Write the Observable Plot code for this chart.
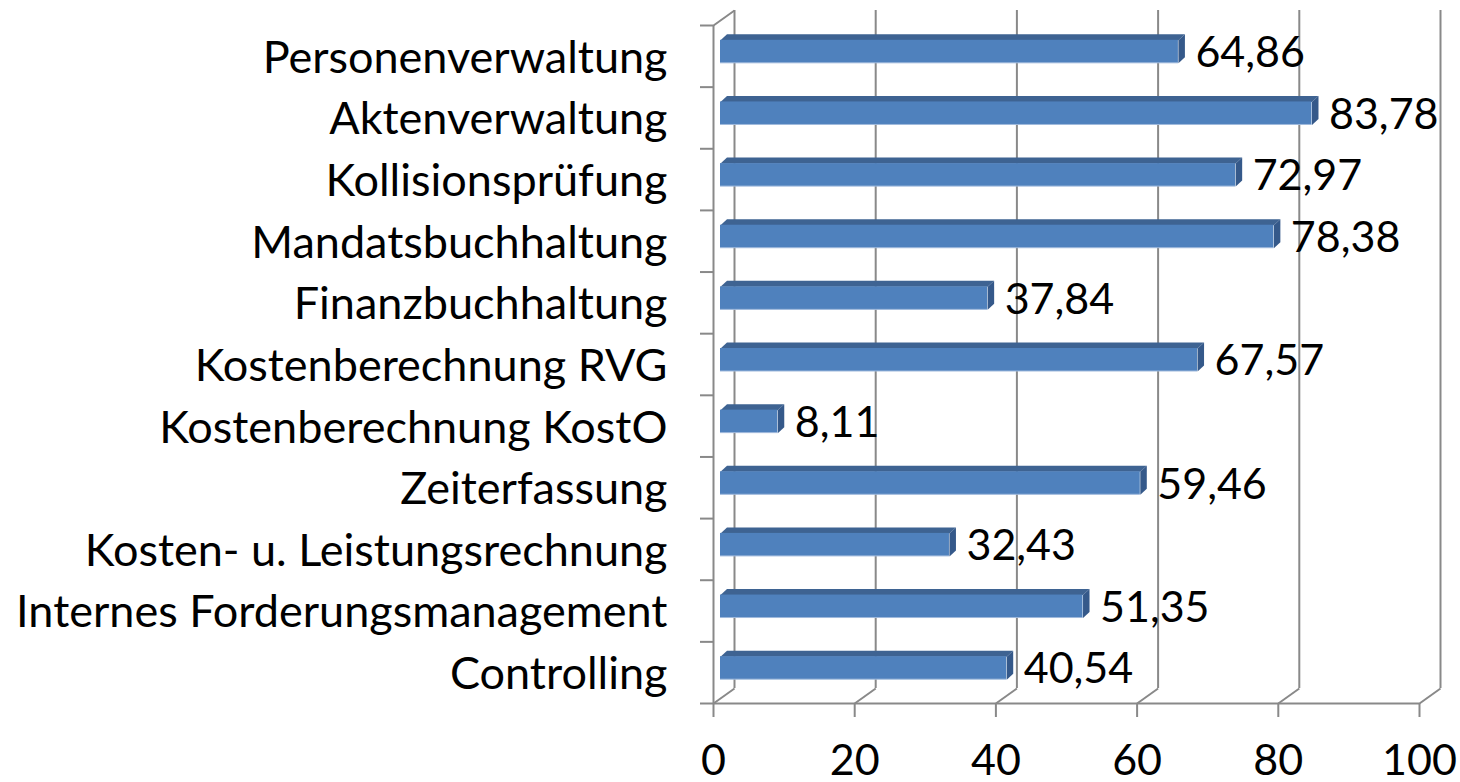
<!DOCTYPE html>
<html>
<head>
<meta charset="utf-8">
<script src="https://cdn.jsdelivr.net/npm/d3@7"></script>
<script src="https://cdn.jsdelivr.net/npm/@observablehq/plot@0.6"></script>
<style>
  html, body { margin: 0; padding: 0; background: #ffffff; }
  #chart svg { display: block; }
</style>
</head>
<body>
<div id="chart"></div>
<script>
// ---- data ----
const categories = [
  "Personenverwaltung",
  "Aktenverwaltung",
  "Kollisionsprüfung",
  "Mandatsbuchhaltung",
  "Finanzbuchhaltung",
  "Kostenberechnung RVG",
  "Kostenberechnung KostO",
  "Zeiterfassung",
  "Kosten- u. Leistungsrechnung",
  "Internes Forderungsmanagement",
  "Controlling"
];
const values = [64.86, 83.78, 72.97, 78.38, 37.84, 67.57, 8.11, 59.46, 32.43, 51.35, 40.54];
const xTicks = [0, 20, 40, 60, 80, 100];

// ---- layout ----
const W = 1460, H = 782;
const X0 = 713, X1 = 1419;       // front plane: 0 .. 100
const Y0 = 25, Y1 = 703;         // front plane: top .. bottom
const n = categories.length;
const kx = (X1 - X0) / 100;      // px per value unit
const ky = (Y1 - Y0) / n;        // px per category
const wallDX = 21, wallDY = -15; // depth of the back wall
const barDX = 7, barDY = -4.5;   // bar front plane offset
const depDX = 6.5, depDY = -6;   // bar depth
const barH = 23;

const FONT = "Lato, 'Open Sans', sans-serif";
const FS = 43;
const FS_CAT = 45;
const GRID = "#898989";

const fmt = v => v.toFixed(2).replace(".", ",");
const rows = categories.map((name, i) => ({name, i, value: values[i], label: fmt(values[i])}));

const hy = (barH / 2) / ky;
const tx = depDX / kx, ty = depDY / ky;

const topFaces = rows.flatMap(d => {
  const yt = d.i + 0.5 - hy;
  return [
    {i: d.i, x: 0, y: yt},
    {i: d.i, x: d.value, y: yt},
    {i: d.i, x: d.value + tx, y: yt + ty},
    {i: d.i, x: tx, y: yt + ty}
  ];
});
const sideFaces = rows.flatMap(d => {
  const yt = d.i + 0.5 - hy, yb = d.i + 0.5 + hy;
  return [
    {i: d.i, x: d.value, y: yt},
    {i: d.i, x: d.value + tx, y: yt + ty},
    {i: d.i, x: d.value + tx, y: yb + ty},
    {i: d.i, x: d.value, y: yb}
  ];
});

const chart = Plot.plot({
  width: W,
  height: H,
  marginLeft: X0,
  marginRight: W - X1,
  marginTop: Y0,
  marginBottom: H - Y1,
  x: {domain: [0, 100], range: [X0, X1], axis: null},
  y: {domain: [0, n], range: [Y0, Y1], axis: null},
  marks: [
    // back wall gridlines
    Plot.ruleX(xTicks, {x: d => d, y1: 0, y2: n, dx: wallDX, dy: wallDY, stroke: GRID, strokeWidth: 2}),
    // floor diagonals
    Plot.link(xTicks, {x1: d => d, y1: n, x2: d => d + wallDX / kx, y2: n + wallDY / ky, stroke: GRID, strokeWidth: 2}),
    // left wall front edge + top diagonal
    Plot.ruleX([0], {y1: 0, y2: n, stroke: GRID, strokeWidth: 2}),
    Plot.link([0], {x1: 0, y1: 0, x2: wallDX / kx, y2: wallDY / ky, stroke: GRID, strokeWidth: 2}),
    // left ticks
    Plot.ruleY(d3.range(n + 1), {y: d => d, x1: -13 / kx, x2: 0, stroke: GRID, strokeWidth: 2}),
    // bottom axis line + ticks
    Plot.ruleY([n], {x1: 0, x2: 100, stroke: GRID, strokeWidth: 2}),
    Plot.ruleX(xTicks, {x: d => d, y1: n, y2: n + 14 / ky, stroke: GRID, strokeWidth: 2}),
    // bars: top face, side face, front face
    Plot.line(topFaces, {x: "x", y: "y", z: "i", fill: "#3e6392", stroke: "none", dx: barDX, dy: barDY}),
    Plot.line(sideFaces, {x: "x", y: "y", z: "i", fill: "#35598a", stroke: "none", dx: barDX, dy: barDY}),
    Plot.rect(rows, {
      x1: 0, x2: "value", y1: "i", y2: d => d.i + 1,
      insetTop: (ky - barH) / 2, insetBottom: (ky - barH) / 2,
      dx: barDX, dy: barDY, fill: "#4f81bd"
    }),
    Plot.ruleY(rows, {y: d => d.i + 0.5 + hy, x1: 0, x2: "value", dx: barDX, dy: barDY - 0.5, stroke: "#9fb9dc", strokeWidth: 1}),
    // value labels
    Plot.text(rows, {x: "value", y: d => d.i + 0.5, text: "label", dx: 24, dy: -3,
      textAnchor: "start", lineAnchor: "middle", fontSize: FS, fontFamily: FONT, fill: "#000"}),
    // category labels
    Plot.text(rows, {x: 0, y: d => d.i + 0.5, text: "name", dx: -46, dy: 2,
      textAnchor: "end", lineAnchor: "middle", fontSize: FS_CAT, fontFamily: FONT, fill: "#000"}),
    // x tick labels
    Plot.text(xTicks, {x: d => d, y: n, text: d => String(d), dy: 71,
      textAnchor: "middle", lineAnchor: "bottom", fontSize: FS, fontFamily: FONT, fill: "#000"})
  ]
});

document.getElementById("chart").appendChild(chart);
</script>
</body>
</html>
